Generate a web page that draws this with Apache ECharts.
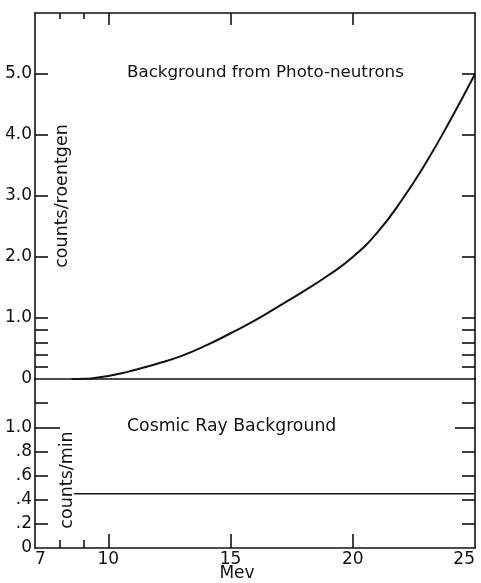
<!DOCTYPE html>
<html>
<head>
<meta charset="utf-8">
<script src="https://cdn.jsdelivr.net/npm/echarts@6/dist/echarts.min.js"></script>
<style>
  html, body { margin: 0; padding: 0; background: #fff; }
  #chart { width: 481px; height: 583px; }
</style>
</head>
<body>
<div id="chart"></div>
<script>
// photo-neutron background, counts/roentgen vs Mev
const energies = [8.5, 9, 9.5, 10, 10.5, 11, 12, 13, 14, 15, 16, 17, 18, 19, 20, 21, 22, 23, 24, 25];
const photoNeutron = [0, 0.003, 0.02, 0.05, 0.09, 0.14, 0.25, 0.38, 0.55, 0.75, 0.96, 1.2, 1.44, 1.7, 2.0, 2.4, 2.93, 3.55, 4.25, 5.0];

// cosmic ray background, counts/min
const cosmicEnergies = [8.6, 25];
const cosmicValues = [0.45, 0.45];

const xLabels = [7, 10, 15, 20, 25];
const xMajorTicks = [10, 15, 20];
const xMinorTicks = [8, 9];
const topYLabels = [0, 1, 2, 3, 4, 5];
const topYTicks = [0.2, 0.4, 0.6, 0.8, 1, 2, 3, 4, 5];
const bottomYLabels = [0, 0.2, 0.4, 0.6, 0.8, 1.0];
const bottomYTicks = [0.2, 0.4, 0.6, 0.8, 1.2];

const ink = "#111";
const font = "DejaVu Sans";
const line = { show: true, onZero: false, lineStyle: { color: ink, width: 1.6 } };
const noLine = { show: false, onZero: false };

const ticks = (vals, len) => ({
  show: true, inside: true, length: len, customValues: vals,
  lineStyle: { color: ink, width: 1.6 }
});
const noTicks = { show: false };
const noLabels = { show: false };
const numLabel = (vals, fmt, extra) => Object.assign({
  show: true, customValues: vals, color: ink, fontSize: 17,
  fontFamily: font, formatter: fmt
}, extra || {});

const topFmt = (v) => (v === 0 ? "0" : v.toFixed(1));
const bottomFmt = (v) => (v === 0 ? "0" : v >= 1 ? v.toFixed(1) : "." + Math.round(v * 10));

const xAx = (grid, pos, axLine, tick, label) => ({
  gridIndex: grid, type: "value", min: 7, max: 25, position: pos,
  axisLine: axLine, axisTick: tick, axisLabel: label || noLabels, splitLine: noLine
});
const yAx = (grid, max, pos, axLine, tick, label) => ({
  gridIndex: grid, type: "value", min: 0, max: max, position: pos,
  axisLine: axLine, axisTick: tick, axisLabel: label || noLabels, splitLine: noLine
});

const chart = echarts.init(document.getElementById("chart"));

const topGrid = { left: 35, right: 6, top: 13, height: 366 };
const bottomGrid = { left: 35, right: 6, top: 379, height: 169 };

const option = {
  backgroundColor: "#fff",
  animation: false,
  // grids 2 and 3 sit on top of 0 and 1 and only carry the extra tick sets
  grid: [topGrid, bottomGrid, Object.assign({}, topGrid), Object.assign({}, bottomGrid)],
  xAxis: [
    xAx(0, "bottom", line, noTicks),
    xAx(0, "top", line, ticks(xMajorTicks, 12)),
    xAx(1, "bottom", line, ticks(xMajorTicks, 14),
      numLabel(xLabels, (v) => String(v), { margin: 3, alignMinLabel: "left", alignMaxLabel: "right" })),
    xAx(2, "top", noLine, ticks(xMinorTicks, 6)),
    xAx(3, "bottom", noLine, ticks(xMinorTicks, 8))
  ],
  yAxis: [
    yAx(0, 6, "left", line, ticks(topYTicks, 13), numLabel(topYLabels, topFmt, { margin: 3 })),
    yAx(0, 6, "right", line, ticks(topYTicks, 13)),
    yAx(1, 1.4, "left", line, ticks(bottomYTicks, 13), numLabel(bottomYLabels, bottomFmt, { margin: 3 })),
    yAx(1, 1.4, "right", line, ticks(bottomYTicks, 13)),
    yAx(2, 6, "left", noLine, noTicks),
    yAx(3, 1.4, "left", noLine, ticks([1.0], 25)),
    yAx(3, 1.4, "right", noLine, ticks([1.0], 20))
  ],
  graphic: [
    { type: "text", x: 127, y: 73,
      style: { text: "Background from Photo-neutrons", fill: ink, font: "16.7px " + font, textVerticalAlign: "middle" } },
    { type: "text", x: 127, y: 427,
      style: { text: "Cosmic Ray Background", fill: ink, font: "17.3px " + font, textVerticalAlign: "middle" } },
    { type: "text", x: 62, y: 196, rotation: Math.PI / 2,
      style: { text: "counts/roentgen", fill: ink, font: "17.5px " + font, textAlign: "center", textVerticalAlign: "middle" } },
    { type: "text", x: 67, y: 480, rotation: Math.PI / 2,
      style: { text: "counts/min", fill: ink, font: "17.5px " + font, textAlign: "center", textVerticalAlign: "middle" } },
    { type: "text", x: 237, y: 574,
      style: { text: "Mev", fill: ink, font: "17px " + font, textAlign: "center", textVerticalAlign: "middle" } }
  ],
  series: [
    {
      type: "line", xAxisIndex: 0, yAxisIndex: 0, smooth: true, showSymbol: false,
      data: energies.map((e, i) => [e, photoNeutron[i]]),
      lineStyle: { color: ink, width: 2 }
    },
    {
      type: "line", xAxisIndex: 2, yAxisIndex: 2, showSymbol: false,
      data: cosmicEnergies.map((e, i) => [e, cosmicValues[i]]),
      lineStyle: { color: ink, width: 1.6 }
    }
  ]
};

chart.setOption(option);
</script>
</body>
</html>
